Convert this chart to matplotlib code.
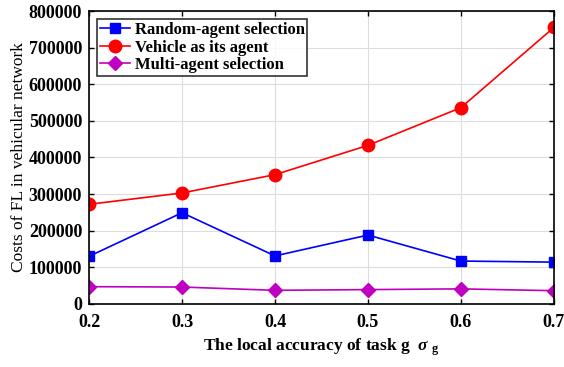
import matplotlib
matplotlib.use('Agg')
import matplotlib.pyplot as plt

plt.rcParams['font.family'] = ['Liberation Serif', 'DejaVu Serif']
plt.rcParams['font.weight'] = 'bold'
plt.rcParams['mathtext.fontset'] = 'custom'
plt.rcParams['mathtext.rm'] = 'Liberation Serif'
plt.rcParams['mathtext.it'] = 'Liberation Serif:italic'
plt.rcParams['mathtext.bf'] = 'Liberation Serif:bold'

accuracy = [0.2, 0.3, 0.4, 0.5, 0.6, 0.7]
random_agent = [130000, 249000, 131000, 188000, 117000, 114000]
vehicle_agent = [272000, 303000, 353000, 433000, 536000, 755000]
multi_agent = [47000, 46000, 37000, 39000, 41000, 36000]

fig = plt.figure(figsize=(5.64, 3.67), dpi=100)
ax = fig.add_axes([0.158, 0.172, 0.824, 0.798])

ax.plot(accuracy, random_agent, '-s', color='blue', markersize=7, linewidth=1.2, label='Random-agent selection')
ax.plot(accuracy, vehicle_agent, '-o', color='red', markersize=9, linewidth=1.2, label='Vehicle as its agent')
ax.plot(accuracy, multi_agent, '-D', color='#c000c0', markersize=7, linewidth=1.2, label='Multi-agent selection')

ax.set_xlim(0.2, 0.7)
ax.set_ylim(0, 800000)
ax.set_xticks(accuracy)
ax.set_yticks(range(0, 800001, 100000))
ax.grid(True, color='#dddddd', linewidth=0.8)
ax.tick_params(direction='in', top=True, right=True, labelsize=13, width=1)
ax.tick_params(axis='x', pad=7)
ax.tick_params(axis='y', pad=5)
for lab in ax.get_xticklabels() + ax.get_yticklabels():
    lab.set_fontweight('bold')
for s in ax.spines.values():
    s.set_linewidth(1.2)

ax.set_xlabel(r'The local accuracy of task g  $\sigma$ $_{\mathbf{g}}$', fontsize=12.5, fontweight='bold', labelpad=4)
ax.set_ylabel('Costs of FL in vehicular network', fontsize=12.5, fontweight='normal', labelpad=1)

leg = ax.legend(loc='upper left', fontsize=12, frameon=True, fancybox=False,
                edgecolor='black', borderpad=0.15, labelspacing=0.1, handlelength=1.8,
                handletextpad=0.3, borderaxespad=0.5)
leg.get_frame().set_linewidth(1.2)
for t in leg.get_texts():
    t.set_fontweight('bold')

fig.savefig('out.png', dpi=100)
